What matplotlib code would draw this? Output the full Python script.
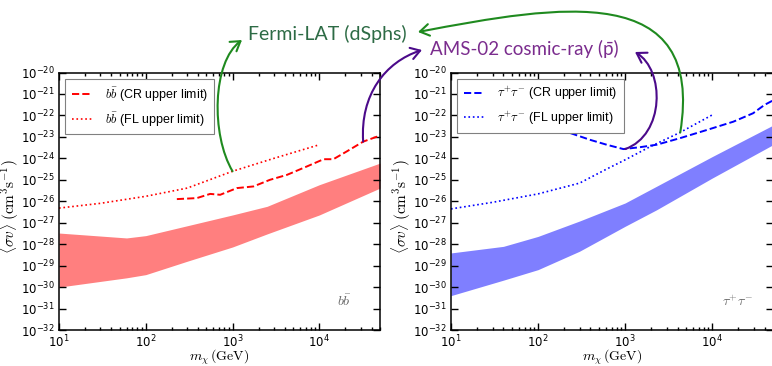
import matplotlib
matplotlib.use('Agg')
import matplotlib.pyplot as plt
from matplotlib.path import Path
from matplotlib.patches import FancyArrowPatch
from matplotlib.font_manager import FontProperties
from matplotlib.ticker import LogLocator, NullLocator

# --- b bbar channel (left panel) ---
bb_band_mass = [10, 60, 100, 300, 1000, 2500, 10000, 50000]
bb_band_hi = [3.3e-28, 1.95e-28, 2.5e-28, 7.2e-28, 2.3e-27, 5.8e-27, 5.9e-26, 6.0e-25]
bb_band_lo = [1.0e-30, 2.7e-30, 3.8e-30, 1.6e-29, 7.4e-29, 3.0e-28, 2.3e-27, 4.1e-26]

bb_fl_mass = [10, 30, 100, 300, 1000, 3000, 10000]
bb_fl = [4.8e-27, 8.0e-27, 1.7e-26, 4.1e-26, 2.5e-25, 1.0e-24, 4.3e-24]

bb_cr_mass = [228, 387, 552, 720, 1120, 1740, 2700, 4240, 7200, 11200, 14500, 20700, 32000, 50000]
bb_cr = [1.26e-26, 1.4e-26, 2.2e-26, 2.0e-26, 4.1e-26, 4.9e-26, 1.0e-25, 1.7e-25,
         4.2e-25, 9.1e-25, 9.1e-25, 2.1e-24, 6.0e-24, 1.15e-23]

# --- tau+ tau- channel (right panel) ---
tt_band_mass = [10, 40, 100, 300, 1000, 2300, 10000, 50000]
tt_band_hi = [3.9e-29, 7.9e-29, 2.3e-28, 1.2e-27, 8.3e-27, 5.0e-26, 1.2e-24, 3.5e-23]
tt_band_lo = [4.0e-31, 2.1e-30, 6.5e-30, 4.7e-29, 6.8e-28, 4.0e-27, 1.2e-25, 4.3e-24]

tt_fl_mass = [10, 30, 100, 300, 617, 1000, 1940, 4270, 10000]
tt_fl = [4.4e-27, 8.9e-27, 2.2e-26, 7.0e-26, 3.2e-25, 8.5e-25, 3.5e-24, 1.6e-23, 1.05e-22]

tt_cr_mass = [235, 400, 615, 955, 1480, 2300, 4270, 8700, 17500, 29500, 40000, 50000]
tt_cr = [1.5e-23, 7.2e-24, 4.3e-24, 2.7e-24, 3.3e-24, 4.3e-24, 8.7e-24, 2.1e-23,
         5.1e-23, 1.26e-22, 3.1e-22, 5.0e-22]

W, H = 772, 366
fig = plt.figure(figsize=(W / 100, H / 100), dpi=100)


def px(x, y):
    # pixel position on the 772x366 canvas -> figure fraction
    return (x / W, 1 - y / H)


ax_l = fig.add_axes([59 / W, 1 - 330 / H, 321 / W, 257.5 / H])
ax_r = fig.add_axes([451 / W, 1 - 330 / H, 322 / W, 257.5 / H])

leg_font = FontProperties(family=['Liberation Sans', 'DejaVu Sans'], size=9,
                          math_fontfamily='cm')
ylab = r'$\langle\sigma v\rangle\;(\mathrm{cm^3 s^{-1}})$'
xlab = r'$m_\chi\,(\mathrm{GeV})$'

panels = [
    (ax_l, 'red', '#ff7f7f', r'$b\bar{b}$', bb_band_mass, bb_band_lo, bb_band_hi,
     bb_cr_mass, bb_cr, bb_fl_mass, bb_fl),
    (ax_r, 'blue', '#7f7fff', r'$\tau^{+}\tau^{-}$', tt_band_mass, tt_band_lo, tt_band_hi,
     tt_cr_mass, tt_cr, tt_fl_mass, tt_fl),
]

for ax, lc, fc, name, bm, blo, bhi, cm, cr, fm, fl in panels:
    ax.fill_between(bm, blo, bhi, color=fc, lw=0)
    ax.plot(cm, cr, ls='--', color=lc, lw=1.4, label=name + ' (CR upper limit)')
    ax.plot(fm, fl, ls=':', color=lc, lw=1.2, label=name + ' (FL upper limit)')
    ax.set_xscale('log')
    ax.set_yscale('log')
    ax.set_xlim(10, 5e4)
    ax.set_ylim(1e-32, 1e-20)
    ax.yaxis.set_major_locator(LogLocator(base=10, numticks=20))
    ax.yaxis.set_minor_locator(NullLocator())
    ax.tick_params(which='both', direction='in', top=True, right=True, width=1,
                   labelsize=8.5, pad=3)
    ax.tick_params(which='major', length=5)
    ax.tick_params(which='minor', length=2.5)
    for s in ax.spines.values():
        s.set_linewidth(1.1)
    ax.set_xlabel(xlab, fontsize=10, math_fontfamily='cm')
    ax.xaxis.set_label_coords(0.5, -0.068)
    ax.set_ylabel(ylab, fontsize=11, math_fontfamily='cm')
    ax.yaxis.set_label_coords(-0.118, 0.48)
    leg = ax.legend(loc='upper left', prop=leg_font, fancybox=False, framealpha=1,
                    edgecolor='0.5', handlelength=1.6, handletextpad=1.1,
                    borderpad=0.5, labelspacing=0.55)
    leg.get_frame().set_linewidth(0.8)
    ax.text(0.89, 0.11, name, transform=ax.transAxes, fontsize=10, color='0.4',
            math_fontfamily='cm', ha='center', va='center')

# --- hand-drawn style annotations ---
note_font = ['Lato', 'DejaVu Sans']
fig.text(*px(248, 40), 'Fermi-LAT (dSphs)', color='#2d6b45', fontsize=14,
         family=note_font, va='baseline')
fig.text(*px(430, 55), 'AMS-02 cosmic-ray (p\u0304)', color='#7b2d8e', fontsize=13.5,
         family=note_font, va='baseline')

to_fig = fig.transFigure.inverted()


def curved_arrow(ax, tail, c1, c2, head, color):
    p0 = to_fig.transform(ax.transData.transform(tail))
    verts = [p0, px(*c1), px(*c2), px(*head)]
    codes = [Path.MOVETO, Path.CURVE4, Path.CURVE4, Path.CURVE4]
    arr = FancyArrowPatch(path=Path(verts, codes), transform=fig.transFigure,
                          arrowstyle='->,head_length=0.55,head_width=0.35',
                          mutation_scale=12, color=color, lw=1.5)
    fig.add_artist(arr)


green = '#1f8a1f'
purple = '#4b0a8a'
curved_arrow(ax_l, (1000, 2.5e-25), (211, 135), (212, 62), (242, 40), green)
curved_arrow(ax_r, (4300, 1.6e-23), (705, -20), (560, 5), (418, 32), green)
curved_arrow(ax_l, (32000, 6.0e-24), (360, 95), (385, 62), (422, 50), purple)
curved_arrow(ax_r, (1000, 2.7e-24), (665, 135), (665, 70), (635, 52), purple)

fig.savefig('out.png', dpi=100)
